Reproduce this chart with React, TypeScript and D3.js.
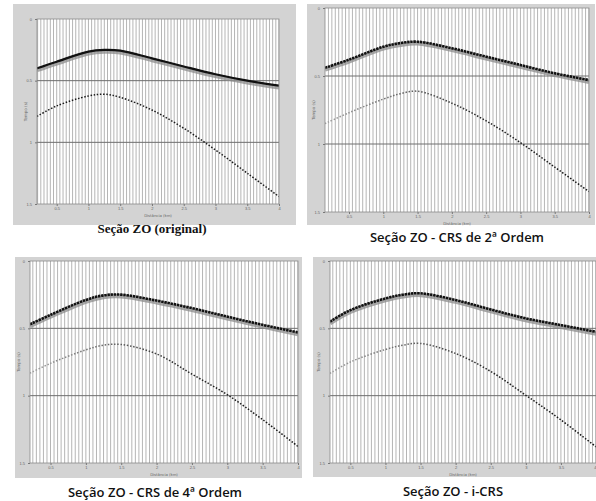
import React, { useEffect, useRef } from "react";
import * as d3 from "d3";

// offsets (km) where the event times were read
const eventOffsets = [0.2, 0.5, 1, 1.25, 1.5, 2, 2.5, 3, 3.5, 4];

// two-way times (s) of the two reflections in each section
const originalTop = [0.4, 0.346, 0.265, 0.251, 0.257, 0.319, 0.385, 0.448, 0.5, 0.54];
const originalBottom = [0.79, 0.705, 0.624, 0.61, 0.635, 0.738, 0.886, 1.062, 1.25, 1.44];
const crs2Top = [0.44, 0.38, 0.285, 0.258, 0.248, 0.296, 0.358, 0.419, 0.48, 0.53];
const crs2Bottom = [0.85, 0.77, 0.67, 0.63, 0.612, 0.7, 0.83, 0.99, 1.17, 1.35];
const crs4Top = [0.47, 0.4, 0.289, 0.255, 0.25, 0.294, 0.35, 0.413, 0.474, 0.53];
const crs4Bottom = [0.833, 0.76, 0.66, 0.625, 0.62, 0.69, 0.84, 0.993, 1.178, 1.377];
const icrsTop = [0.45, 0.365, 0.278, 0.25, 0.24, 0.29, 0.36, 0.426, 0.476, 0.526];
const icrsBottom = [0.835, 0.75, 0.657, 0.625, 0.612, 0.687, 0.82, 0.997, 1.18, 1.38];

const xTicks = [0.5, 1, 1.5, 2, 2.5, 3, 3.5, 4];
const yTicks = [0, 0.5, 1, 1.5];
const timeLines = [0.5, 1];
const traceStep = 0.05;

const captions = [
  "Seção ZO (original)",
  "Seção ZO - CRS de 2ª Ordem",
  "Seção ZO - CRS de 4ª Ordem",
  "Seção ZO - i-CRS",
];

const panels = [
  { top: originalTop, bottom: originalBottom, frame: [13, 4, 283, 221], plot: [37, 19, 242, 185], xMin: 0.19, capX: 152, capY: 233, serif: true, fade: false, clipLast: false },
  { top: crs2Top, bottom: crs2Bottom, frame: [307, 4, 288, 221], plot: [325, 8, 264, 204], xMin: 0.15, capX: 457, capY: 242, serif: false, fade: true, clipLast: false },
  { top: crs4Top, bottom: crs4Bottom, frame: [15, 257, 287, 221], plot: [30, 261, 268, 202], xMin: 0.21, capX: 155, capY: 497, serif: false, fade: true, clipLast: false },
  { top: icrsTop, bottom: icrsBottom, frame: [313, 257, 290, 220], plot: [330, 261, 266, 202], xMin: 0.21, capX: 453, capY: 496, serif: false, fade: true, clipLast: true },
];

export default function App() {
  const ref = useRef<SVGSVGElement>(null);

  useEffect(() => {
    const svg = d3.select(ref.current);
    svg.selectAll("*").remove();
    const defs = svg.append("defs");

    panels.forEach((p, i) => {
      const [fx, fy, fw, fh] = p.frame;
      const [px, py, pw, ph] = p.plot;
      const x = d3.scaleLinear().domain([p.xMin, 4]).range([px, px + pw]);
      const y = d3.scaleLinear().domain([0, 1.5]).range([py, py + ph]);

      const g = svg.append("g");
      g.append("rect").attr("x", fx).attr("y", fy).attr("width", fw).attr("height", fh).attr("fill", "#d3d3d3");

      const clipId = "clip" + i;
      defs.append("clipPath").attr("id", clipId)
        .append("rect").attr("x", px).attr("y", py).attr("width", pw).attr("height", ph);

      g.append("rect").attr("x", px).attr("y", py).attr("width", pw).attr("height", ph).attr("fill", "#fff");

      const plot = g.append("g").attr("clip-path", `url(#${clipId})`);

      // seismic traces
      const traces = d3.range(0.2, 4 + 1e-6, traceStep);
      plot.selectAll(".trace").data(traces).enter().append("line")
        .attr("x1", d => x(d)).attr("x2", d => x(d))
        .attr("y1", py).attr("y2", py + ph)
        .attr("stroke", "#a8a8a8").attr("stroke-width", 0.85);

      plot.selectAll(".tl").data(timeLines).enter().append("line")
        .attr("x1", px).attr("x2", px + pw)
        .attr("y1", d => y(d)).attr("y2", d => y(d))
        .attr("stroke", "#6e6e6e").attr("stroke-width", 1);

      const pts = (arr: number[]) => eventOffsets.map((o, k) => [o === 0.2 ? p.xMin : o, arr[k]] as [number, number]);
      const line = d3.line<[number, number]>().x(d => x(d[0])).y(d => y(d[1])).curve(d3.curveCatmullRom.alpha(0.5));

      // upper event: gray halo + dark core
      plot.append("path").attr("d", line(pts(p.top)))
        .attr("fill", "none").attr("stroke", "#8c8c8c").attr("stroke-width", 4.5)
        .attr("transform", "translate(0,1.6)").attr("opacity", 0.75);
      plot.append("path").attr("d", line(pts(p.top)))
        .attr("fill", "none").attr("stroke", "#111").attr("stroke-width", p.fade ? 2.6 : 2.2)
        .attr("stroke-dasharray", p.fade ? "2.4 0.8" : null);

      // lower event: dotted
      let stroke = "#1a1a1a";
      if (p.fade) {
        const gid = "fade" + i;
        const grad = defs.append("linearGradient").attr("id", gid)
          .attr("gradientUnits", "userSpaceOnUse")
          .attr("x1", px).attr("x2", px + pw).attr("y1", 0).attr("y2", 0);
        grad.append("stop").attr("offset", "0%").attr("stop-color", "#a0a0a0");
        grad.append("stop").attr("offset", "35%").attr("stop-color", "#5a5a5a");
        grad.append("stop").attr("offset", "60%").attr("stop-color", "#222");
        grad.append("stop").attr("offset", "100%").attr("stop-color", "#111");
        stroke = `url(#${gid})`;
      }
      plot.append("path").attr("d", line(pts(p.bottom)))
        .attr("fill", "none").attr("stroke", stroke).attr("stroke-width", 1.5)
        .attr("stroke-dasharray", "1.5 1.7");

      g.append("rect").attr("x", px).attr("y", py).attr("width", pw).attr("height", ph)
        .attr("fill", "none").attr("stroke", "#8a8a8a").attr("stroke-width", 0.8);

      // axes
      const xa = g.append("g").attr("transform", `translate(0,${py + ph})`)
        .call(d3.axisBottom(x).tickValues(xTicks).tickSize(2).tickFormat(d3.format("")));
      xa.select(".domain").remove();
      xa.selectAll("line").attr("stroke", "#777");
      xa.selectAll("text").attr("font-size", 4).attr("fill", "#666").attr("y", 3).attr("dy", "0.8em");
      if (p.clipLast) {
        xa.selectAll("text").filter((d: any) => d === 4).attr("text-anchor", "end");
      }

      const ya = g.append("g").attr("transform", `translate(${px},0)`)
        .call(d3.axisLeft(y).tickValues(yTicks).tickSize(2).tickFormat(d3.format("")));
      ya.select(".domain").remove();
      ya.selectAll("line").attr("stroke", "#777");
      ya.selectAll("text").attr("font-size", 4).attr("fill", "#666");

      g.append("text").attr("x", px + pw / 2).attr("y", py + ph + 13)
        .attr("text-anchor", "middle").attr("font-size", 3.8).attr("fill", "#666")
        .attr("font-family", "DejaVu Sans").text("Distância (km)");
      g.append("text")
        .attr("transform", `translate(${px - 10},${py + ph / 2}) rotate(-90)`)
        .attr("text-anchor", "middle").attr("font-size", 4).attr("fill", "#666")
        .attr("font-family", "DejaVu Sans").text("Tempo (s)");

      svg.append("text").attr("x", p.capX).attr("y", p.capY)
        .attr("text-anchor", "middle")
        .attr("font-family", p.serif ? "Liberation Serif" : "Open Sans")
        .attr("font-weight", p.serif ? "bold" : 600)
        .attr("font-size", 13)
        .attr("fill", "#111")
        .text(captions[i]);
    });
  }, []);

  return (
    <svg ref={ref} width={596} height={501}
      style={{ position: "absolute", left: 0, top: 0, background: "#fff" }} />
  );
}
